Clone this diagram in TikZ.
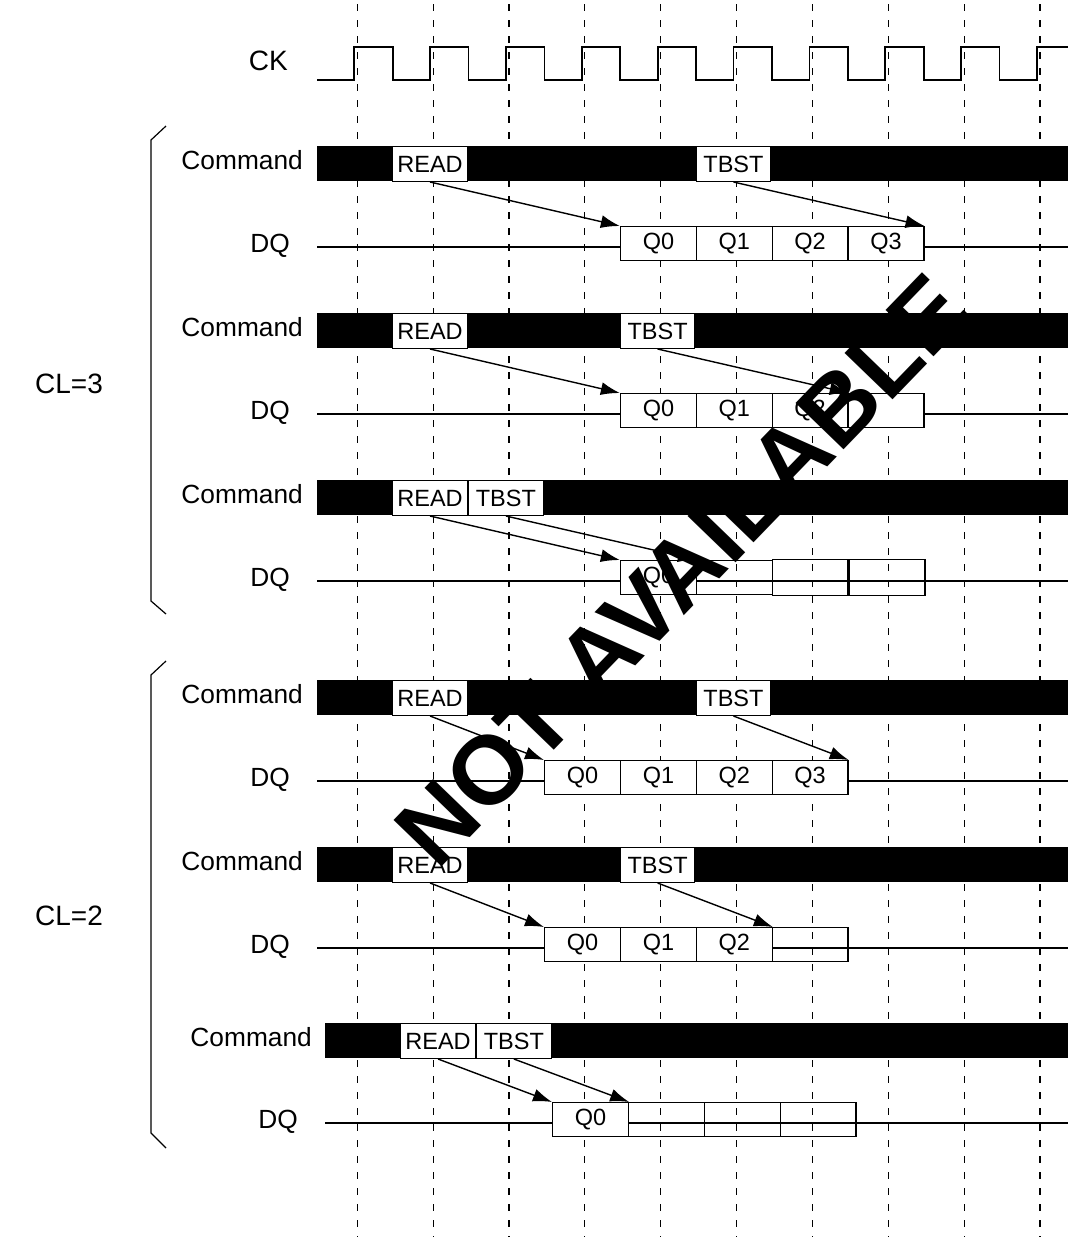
\documentclass[tikz,border=0pt]{standalone}
\usepackage{fontspec}
\setmainfont{Liberation Sans}
\usetikzlibrary{arrows.meta}
\begin{document}
\begin{tikzpicture}[x=1pt,y=-1pt,
  gridline/.style={line width=1.1pt, dash pattern=on 7pt off 9pt},
  clk/.style={line width=1.8pt},
  sig/.style={line width=1.3pt},
  cmdbox/.style={draw=black, fill=white, line width=1pt, inner sep=0pt,
    minimum width=74.5pt, minimum height=35pt, anchor=north west,
    font=\fontsize{23.5}{28}\selectfont},
  qbox/.style={draw=black, fill=white, line width=1.3pt, inner sep=0pt,
    minimum width=75.85pt, minimum height=34pt, anchor=north west,
    font=\fontsize{23.5}{28}\selectfont},
  qempty/.style={qbox, fill=none},
  lbl/.style={anchor=base east, inner sep=0pt, font=\fontsize{26.3}{30}\selectfont},
  biglbl/.style={inner sep=0pt, font=\fontsize{28}{32}\selectfont},
  arr/.style={line width=1.4pt, -{Latex[length=19pt,width=13pt]}}]
\useasboundingbox (0,0) rectangle (1068,1237);
% vertical dashed grid
\foreach \i in {0,...,9}
  \draw[gridline] ({357.3+75.85*\i},4) -- ({357.3+75.85*\i},1237);
% clock
\node[biglbl, anchor=base east] (ck) at (288,70) {CK};
\draw[clk] (317,80)
  \foreach \i in {0,...,8} {
    -- ({354.3+75.85*\i},80) -- ({354.3+75.85*\i},47)
    -- ({392.7+75.85*\i},47) -- ({392.7+75.85*\i},80) }
  -- (1037,80) -- (1037,47) -- (1068,47);
% brackets
\draw[line width=1.2pt] (166,126) -- (151,140) -- (151,601) -- (166,614);
\draw[line width=1.2pt] (166,661) -- (151,675) -- (151,1133) -- (166,1148);
\node[biglbl, anchor=base west] (cl3) at (35,393) {CL=3};
\node[biglbl, anchor=base west] (cl2) at (35,925) {CL=2};

% ---------- Row 1 ----------
\fill (317,146) rectangle (1068,181);
\node[cmdbox] (r1a) at (392.3,146) {READ};
\node[cmdbox] (r1b) at (695.7,146) {TBST};
\node[lbl] (r1c) at (303,169) {Command};
\draw[sig] (317,247) -- (1068,247);
\node[lbl] (r1d) at (290,252) {DQ};
\node[qbox] (r1q0) at (619.85,226) {Q0};
\node[qbox] (r1q1) at (695.7,226) {Q1};
\node[qbox] (r1q2) at (771.55,226) {Q2};
\node[qbox] (r1q3) at (847.4,226) {Q3};
\draw[arr] (r1a.south) -- (r1q0.north west);
\draw[arr] (r1b.south) -- (r1q3.north east);

% ---------- Row 2 ----------
\fill (317,313) rectangle (1068,348);
\node[cmdbox] (r2a) at (392.3,313) {READ};
\node[cmdbox] (r2b) at (619.85,313) {TBST};
\node[lbl] (r2c) at (303,336) {Command};
\draw[sig] (317,414) -- (1068,414);
\node[lbl] (r2d) at (290,419) {DQ};
\node[qbox] (r2q0) at (619.85,393) {Q0};
\node[qbox] (r2q1) at (695.7,393) {Q1};
\node[qbox] (r2q2) at (771.55,393) {Q2};
\node[qbox] (r2q3) at (847.4,393) {};
\draw[arr] (r2a.south) -- (r2q0.north west);
\draw[arr] (r2b.south) -- (r2q2.north east);

% ---------- Row 3 ----------
\fill (317,480) rectangle (1068,515);
\node[cmdbox] (r3a) at (392.3,480) {READ};
\node[cmdbox] (r3b) at (468.15,480) {TBST};
\node[lbl] (r3c) at (303,503) {Command};
\draw[sig] (317,581) -- (1068,581);
\node[lbl] (r3d) at (290,586) {DQ};
\node[qbox] (r3q0) at (619.85,560) {Q0};
\node[qempty] (r3q1) at (695.7,560) {};
\node[qempty, minimum height=36pt] (r3q2) at (771.55,558.5) {};
\node[qempty, minimum height=36pt] (r3q3) at (848.4,558.5) {};
\draw[arr] (r3a.south) -- (r3q0.north west);
\draw[arr] (r3b.south) -- (r3q0.north east);

% ---------- Row 4 ----------
\fill (317,680) rectangle (1068,715);
\node[cmdbox] (r4a) at (392.3,680) {READ};
\node[cmdbox] (r4b) at (695.7,680) {TBST};
\node[lbl] (r4c) at (303,703) {Command};
\draw[sig] (317,781) -- (1068,781);
\node[lbl] (r4d) at (290,786) {DQ};
\node[qbox] (r4q0) at (544,760) {Q0};
\node[qbox] (r4q1) at (619.85,760) {Q1};
\node[qbox] (r4q2) at (695.7,760) {Q2};
\node[qbox] (r4q3) at (771.55,760) {Q3};
\draw[arr] (r4a.south) -- (r4q0.north west);
\draw[arr] (r4b.south) -- (r4q3.north east);

% ---------- Row 5 ----------
\fill (317,847) rectangle (1068,882);
\node[cmdbox] (r5a) at (392.3,847) {READ};
\node[cmdbox] (r5b) at (619.85,847) {TBST};
\node[lbl] (r5c) at (303,870) {Command};
\draw[sig] (317,948) -- (1068,948);
\node[lbl] (r5d) at (290,953) {DQ};
\node[qbox] (r5q0) at (544,927) {Q0};
\node[qbox] (r5q1) at (619.85,927) {Q1};
\node[qbox] (r5q2) at (695.7,927) {Q2};
\node[qempty] (r5q3) at (771.55,927) {};
\draw[arr] (r5a.south) -- (r5q0.north west);
\draw[arr] (r5b.south) -- (r5q2.north east);

% ---------- Row 6 ----------
\fill (325,1023) rectangle (1068,1058);
\node[cmdbox] (r6a) at (400.3,1023) {READ};
\node[cmdbox] (r6b) at (476.15,1023) {TBST};
\node[lbl] (r6c) at (312,1046) {Command};
\draw[sig] (325,1123) -- (1068,1123);
\node[lbl] (r6d) at (298,1128) {DQ};
\node[qbox] (r6q0) at (552,1102) {Q0};
\node[qempty] (r6q1) at (627.85,1102) {};
\node[qempty] (r6q2) at (703.7,1102) {};
\node[qempty] (r6q3) at (779.55,1102) {};
\draw[arr] (r6a.south) -- (r6q0.north west);
\draw[arr] (r6b.south) -- (r6q0.north east);

% watermark
\node[rotate=46, inner sep=0pt, font=\bfseries\fontsize{97}{97}\selectfont] (wm) at (682,570) {NOT AVAILABLE};
\end{tikzpicture}
\end{document}
